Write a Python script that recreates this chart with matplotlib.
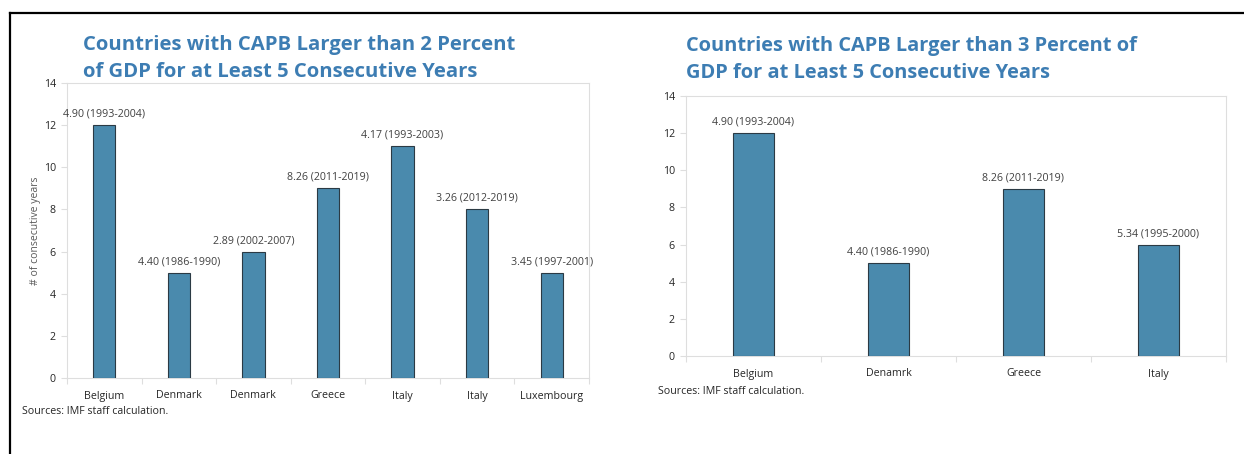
import matplotlib
matplotlib.use("Agg")
import matplotlib.pyplot as plt
from matplotlib.lines import Line2D
import numpy as np

plt.rcParams['font.family'] = ['Open Sans', 'DejaVu Sans']

# Left panel: CAPB > 2% of GDP
left_countries = ["Belgium", "Denmark", "Denmark", "Greece", "Italy", "Italy", "Luxembourg"]
left_years = [12, 5, 6, 9, 11, 8, 5]
left_labels = ["4.90 (1993-2004)", "4.40 (1986-1990)", "2.89 (2002-2007)", "8.26 (2011-2019)",
               "4.17 (1993-2003)", "3.26 (2012-2019)", "3.45 (1997-2001)"]

# Right panel: CAPB > 3% of GDP
right_countries = ["Belgium", "Denamrk", "Greece", "Italy"]
right_years = [12, 5, 9, 6]
right_labels = ["4.90 (1993-2004)", "4.40 (1986-1990)", "8.26 (2011-2019)", "5.34 (1995-2000)"]

y_ticks = [0, 2, 4, 6, 8, 10, 12, 14]

BAR = "#4a8aad"
EDGE = "#2b3a44"
TITLE = "#3d7db3"
TXT = "#404040"
FRAME = "#dedede"

W, H = 1244, 454
fig = plt.figure(figsize=(W / 100, H / 100), dpi=100)


def px_axes(x0, y_top, x1, y_bot):
    return fig.add_axes([x0 / W, (H - y_bot) / H, (x1 - x0) / W, (y_bot - y_top) / H])


def draw_panel(ax, cats, vals, labels, width):
    x = np.arange(len(cats))
    ax.bar(x, vals, width=width, color=BAR, edgecolor=EDGE, linewidth=0.8, zorder=3)
    for xi, v, lab in zip(x, vals, labels):
        ax.annotate(lab, (xi, v), xytext=(0, 4), textcoords="offset points",
                    ha="center", va="bottom", fontsize=7.7, color=TXT)
    ax.set_xlim(-0.5, len(cats) - 0.5)
    ax.set_ylim(0, 14)
    ax.set_yticks(y_ticks)
    ax.set_xticks(x)
    ax.set_xticklabels(cats)
    ax.set_xticks(np.arange(len(cats) + 1) - 0.5, minor=True)
    ax.tick_params(axis="x", which="major", length=0, pad=9, labelsize=7.7, labelcolor="#262626")
    ax.tick_params(axis="x", which="minor", length=4, color=FRAME, width=0.8)
    ax.tick_params(axis="y", length=4, color=FRAME, width=0.8, pad=4, labelsize=7.7,
                   labelcolor="#262626")
    for s in ax.spines.values():
        s.set_color(FRAME)
        s.set_linewidth(0.8)


ax1 = px_axes(67, 83, 589, 378)
draw_panel(ax1, left_countries, left_years, left_labels, 0.3)
ax1.set_ylabel("# of consecutive years", fontsize=7.5, color="#595959", labelpad=2)

ax2 = px_axes(686, 96, 1226, 356)
draw_panel(ax2, right_countries, right_years, right_labels, 0.31)

# Titles
fig.text(83 / W, 1 - 58.5 / H, "Countries with CAPB Larger than 2 Percent\nof GDP for at Least 5 Consecutive Years",
         fontsize=14.6, fontweight="bold", color=TITLE, ha="left", va="center", linespacing=1.5)
fig.text(686 / W, 1 - 59.5 / H, "Countries with CAPB Larger than 3 Percent of\nGDP for at Least 5 Consecutive Years",
         fontsize=14.4, fontweight="bold", color=TITLE, ha="left", va="center", linespacing=1.5)

# Sources
fig.text(22 / W, 1 - 411 / H, "Sources: IMF staff calculation.", fontsize=7.7, color="#262626",
         ha="left", va="center")
fig.text(658 / W, 1 - 392 / H, "Sources: IMF staff calculation.", fontsize=7.7, color="#262626",
         ha="left", va="center")

# Outer border (top and left edges)
fig.add_artist(Line2D([10 / W, 1], [1 - 13 / H, 1 - 13 / H], color="black", linewidth=1.6,
                      transform=fig.transFigure))
fig.add_artist(Line2D([10 / W, 10 / W], [1 - 13 / H, 0], color="black", linewidth=1.6,
                      transform=fig.transFigure))

fig.savefig("out.png", dpi=100)
